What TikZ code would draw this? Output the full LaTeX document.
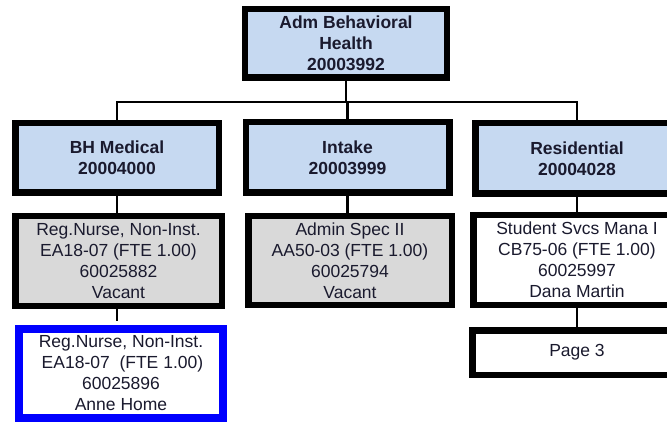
\documentclass[tikz,border=0pt]{standalone}
\usepackage{fontspec}
\setmainfont{Liberation Sans}
\definecolor{hdrblue}{HTML}{C6D9F1}
\definecolor{posgray}{HTML}{D9D9D9}
\definecolor{navy}{HTML}{1A1A2E}
\begin{document}
\begin{tikzpicture}[x=1pt,y=-1pt,
  box/.style={draw=black,line width=6.5pt,inner sep=0pt,align=center,
    font=\fontsize{17.5}{21}\selectfont,text=navy},
  hdrbox/.style={box,fill=hdrblue,font=\fontsize{17.5}{21}\selectfont\bfseries},
  posbox/.style={box,fill=posgray},
  empbox/.style={box,fill=white},
  conn/.style={line width=2.5pt,black}]
\useasboundingbox (0,0) rectangle (667,422);
\clip (0,0) rectangle (667,422);
\node[hdrbox,minimum width=202pt,minimum height=68.5pt] (top) at (346,43.5) {Adm Behavioral\\Health\\20003992};
\node[hdrbox,minimum width=203.5pt,minimum height=69.5pt] (bh) at (117,158) {BH Medical\\20004000};
\node[hdrbox,minimum width=203.5pt,minimum height=70.5pt] (intake) at (347.5,157.5) {Intake\\20003999};
\node[hdrbox,minimum width=203.5pt,minimum height=70.5pt] (resid) at (577,158.5) {Residential\\20004028};
\node[posbox,minimum width=206.5pt,minimum height=89.5pt] (rn1) at (118.5,261) {Reg.Nurse, Non-Inst.\\EA18-07 (FTE 1.00)\\60025882\\Vacant};
\node[posbox,minimum width=203.5pt,minimum height=88.5pt] (adm) at (350,260.5) {Admin Spec II\\AA50-03 (FTE 1.00)\\60025794\\Vacant};
\node[empbox,minimum width=207.5pt,minimum height=89.5pt] (stud) at (577,260) {Student Svcs Mana I\\CB75-06 (FTE 1.00)\\60025997\\Dana Martin};
\node[empbox,minimum width=209.5pt,minimum height=44.5pt] (page) at (577,352.5) {Page 3};
\node[empbox,draw=blue,line width=8pt,minimum width=204pt,minimum height=89pt] (anne) at (121,373.5) {Reg.Nurse, Non-Inst.\\\,EA18-07\ \ (FTE 1.00)\\60025896\\Anne Home};
\coordinate (bus) at (0,102);
\draw[conn] (top.south) -- (top.south |- bus);
\draw[conn] (bh.north) -- (bh.north |- bus) -| (resid.north);
\draw[conn] (intake.north) -- (intake.north |- bus);
\draw[conn] (bh.south) -- (bh.south |- rn1.north);
\draw[conn] (intake.south) -- (intake.south |- adm.north);
\draw[conn] (resid.south) -- (resid.south |- stud.north);
\draw[conn] (stud.south) -- (stud.south |- page.north);
\draw[conn,shorten >=4pt] (bh.south |- rn1.south) -- (bh.south |- anne.north);
\end{tikzpicture}
\end{document}
